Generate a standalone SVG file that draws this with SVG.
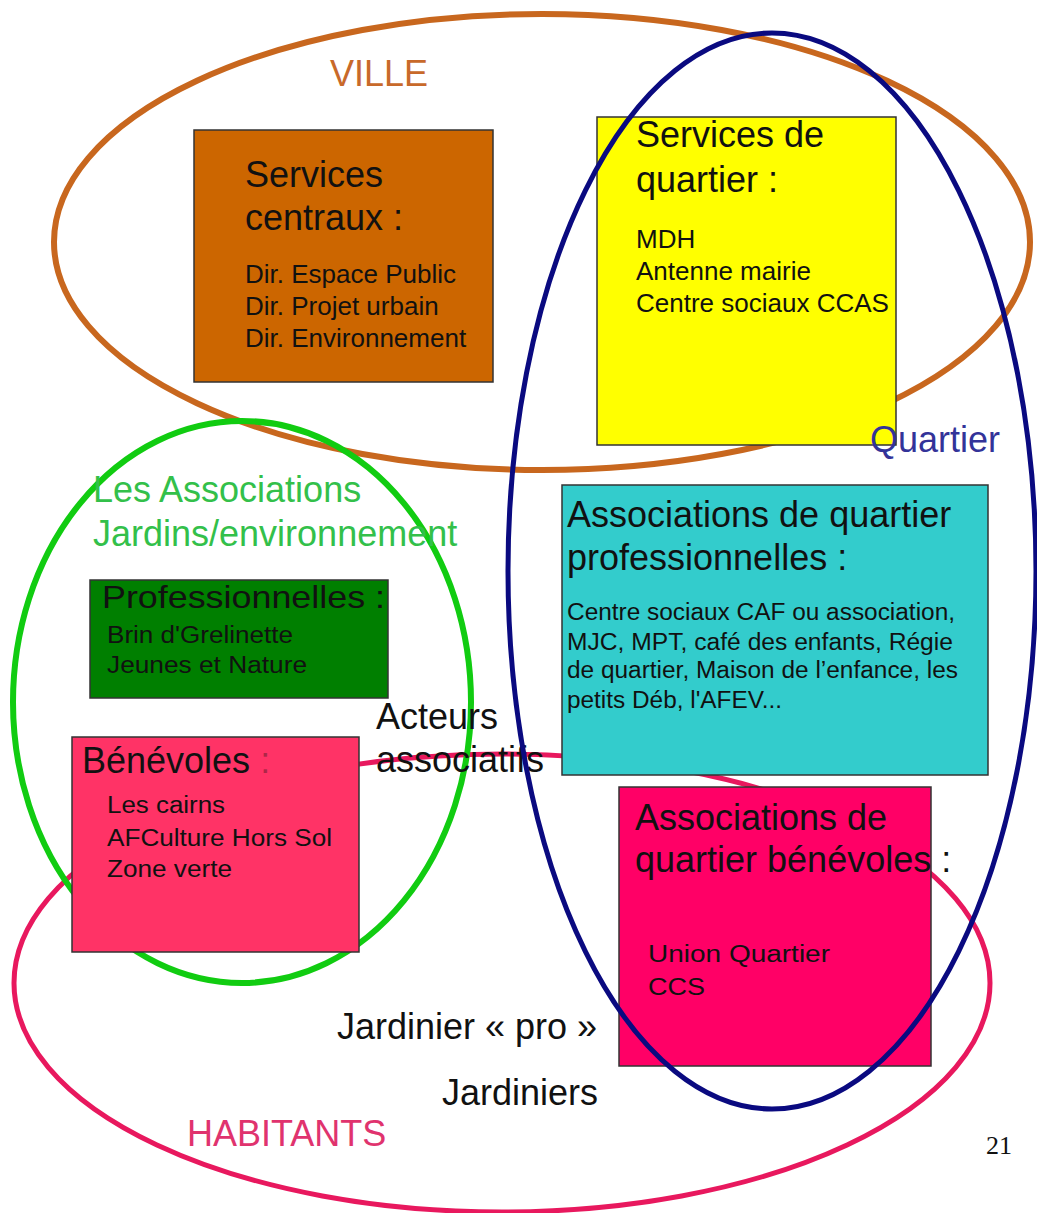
<svg xmlns="http://www.w3.org/2000/svg" width="1037" height="1213" viewBox="0 0 1037 1213">
<style>
text{font-family:"Liberation Sans",Arial,sans-serif;fill:#111}
.t36{font-size:36px}
.t26{font-size:26px}
.t23{font-size:23px}
.box{stroke:#333;stroke-width:1.5}
.ring{fill:none}
</style>
<rect width="1037" height="1213" fill="#ffffff"/>
<g id="region-ville">
<ellipse class="ring" cx="542" cy="242" rx="488" ry="228" stroke="#C8671E" stroke-width="6"/>
<text class="t36" x="330" y="86" style="fill:#C8692A">VILLE</text>
</g>
<g id="region-habitants">
<ellipse class="ring" cx="502" cy="983" rx="488" ry="229" stroke="#E8185E" stroke-width="5"/>
<text class="t36" x="187" y="1146" style="fill:#E0336E">HABITANTS</text>
</g>
<g id="region-associations">
<ellipse class="ring" cx="242" cy="702" rx="229" ry="281" stroke="#11CC11" stroke-width="6"/>
<text class="t36" x="93" y="502" style="fill:#33C04A">Les Associations</text>
<text class="t36" x="93" y="546" style="fill:#33C04A">Jardins/environnement</text>
</g>
<g id="node-services-centraux">
<rect class="box" x="194" y="130" width="299" height="252" fill="#CC6600"/>
<text class="t36" x="245" y="187">Services</text>
<text class="t36" x="245" y="230">centraux :</text>
<text class="t26" x="245" y="283">Dir. Espace Public</text>
<text class="t26" x="245" y="315">Dir. Projet urbain</text>
<text class="t26" x="245" y="347">Dir. Environnement</text>
</g>
<g id="node-services-quartier">
<rect class="box" x="597" y="117" width="299" height="328" fill="#FFFF00"/>
<text class="t36" x="636" y="147">Services de</text>
<text class="t36" x="636" y="192">quartier :</text>
<text class="t26" x="636" y="248">MDH</text>
<text class="t26" x="636" y="280">Antenne mairie</text>
<text class="t26" x="636" y="312">Centre sociaux CCAS</text>
</g>
<g id="node-professionnelles">
<rect class="box" x="90" y="580" width="298" height="118" fill="#007F00"/>
<text x="102" y="608" style="font-size:32px" textLength="283" lengthAdjust="spacingAndGlyphs">Professionnelles :</text>
<text class="t23" x="107" y="643" textLength="186" lengthAdjust="spacingAndGlyphs">Brin d'Grelinette</text>
<text class="t23" x="107" y="673" textLength="200" lengthAdjust="spacingAndGlyphs">Jeunes et Nature</text>
</g>
<g id="node-benevoles">
<rect class="box" x="72" y="737" width="287" height="215" fill="#FF3366"/>
<text class="t36" x="82" y="773">Bénévoles <tspan style="fill-opacity:0.35">:</tspan></text>
<text class="t23" x="107" y="813" textLength="118" lengthAdjust="spacingAndGlyphs">Les cairns</text>
<text class="t23" x="107" y="846" textLength="225" lengthAdjust="spacingAndGlyphs">AFCulture Hors Sol</text>
<text class="t23" x="107" y="877" textLength="125" lengthAdjust="spacingAndGlyphs">Zone verte</text>
</g>
<g id="node-asso-pro">
<rect class="box" x="562" y="485" width="426" height="290" fill="#33CCCC"/>
<text class="t36" x="567" y="527">Associations de quartier</text>
<text class="t36" x="567" y="570">professionnelles :</text>
<text class="t23" x="567" y="620" textLength="388" lengthAdjust="spacingAndGlyphs">Centre sociaux CAF ou association,</text>
<text class="t23" x="567" y="650" textLength="386" lengthAdjust="spacingAndGlyphs">MJC, MPT, café des enfants, Régie</text>
<text class="t23" x="567" y="678" textLength="391" lengthAdjust="spacingAndGlyphs">de quartier, Maison de l’enfance, les</text>
<text class="t23" x="567" y="708" textLength="215" lengthAdjust="spacingAndGlyphs">petits Déb, l'AFEV...</text>
</g>
<g id="node-asso-benevoles">
<rect class="box" x="619" y="787" width="312" height="279" fill="#FF0066"/>
<text class="t36" x="635" y="830">Associations de</text>
<text class="t36" x="635" y="872">quartier bénévoles :</text>
<text class="t23" x="648" y="962" textLength="182" lengthAdjust="spacingAndGlyphs">Union Quartier</text>
<text class="t23" x="648" y="995" textLength="57" lengthAdjust="spacingAndGlyphs">CCS</text>
</g>
<g id="labels">
<text class="t36" x="376" y="729">Acteurs</text>
<text class="t36" x="376" y="772">associatifs</text>
<text class="t36" x="337" y="1039">Jardinier « pro »</text>
<text class="t36" x="442" y="1105">Jardiniers</text>
<text x="986" y="1154" style="font-family:'Liberation Serif','Times New Roman',serif;font-size:26px">21</text>
</g>
<g id="region-quartier">
<ellipse class="ring" cx="772" cy="571" rx="264" ry="538" stroke="#0A0A80" stroke-width="5"/>
<text class="t36" x="870" y="452" style="fill:#333399">Quartier</text>
</g>
<g id="connectors"></g>
</svg>
